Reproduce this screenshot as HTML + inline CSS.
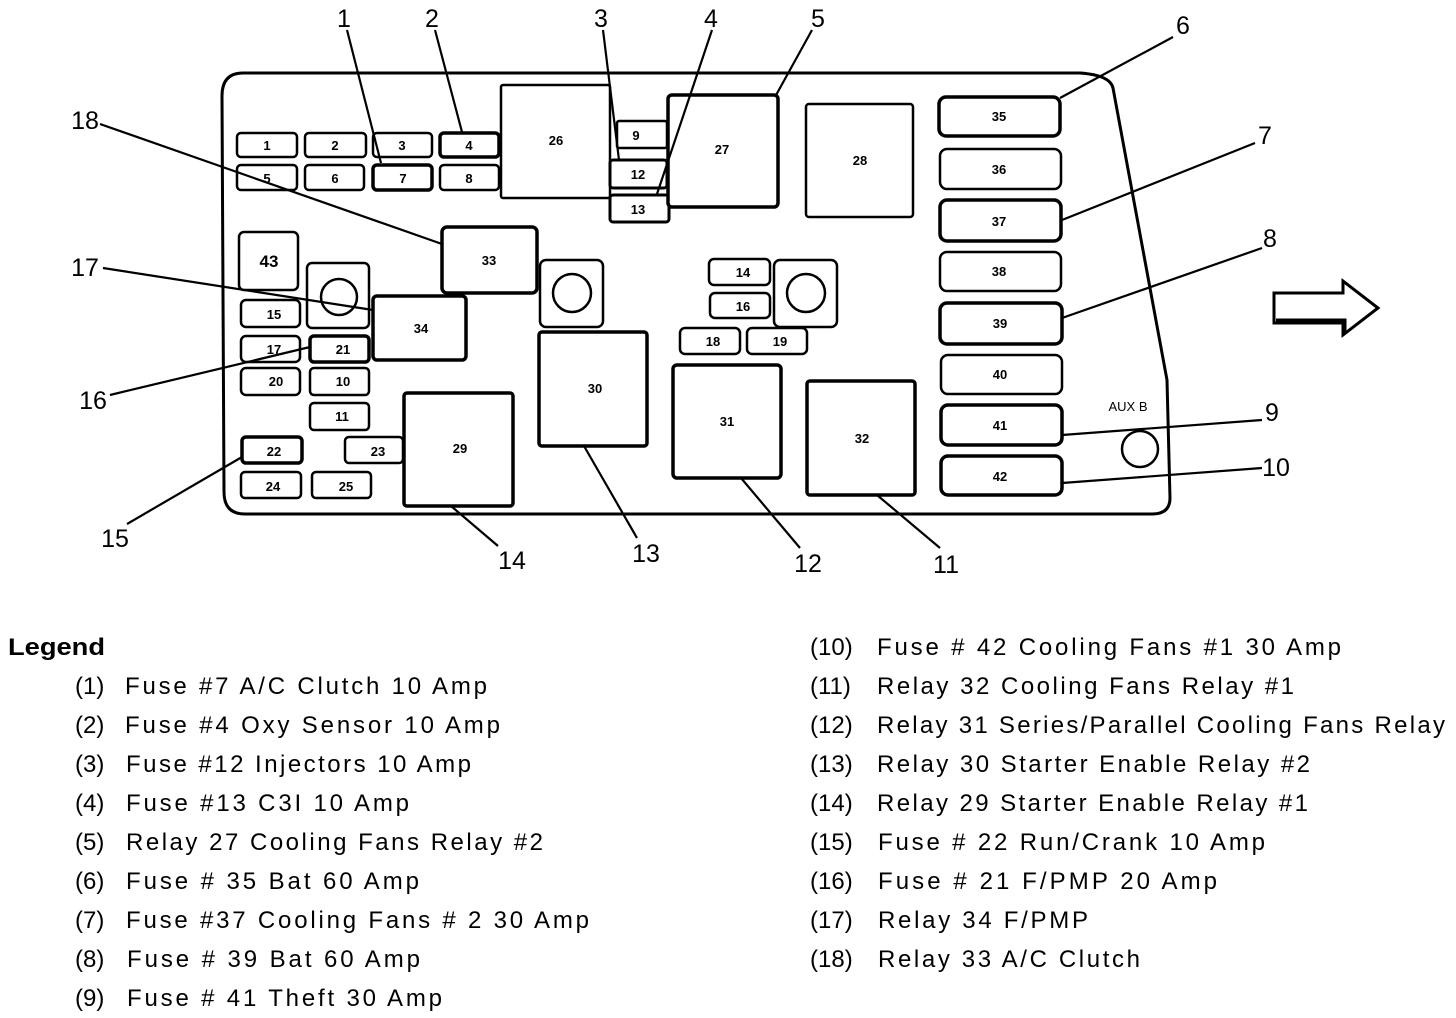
<!DOCTYPE html>
<html><head><meta charset="utf-8"><style>
html,body{margin:0;padding:0;background:#fff;}
svg{display:block;}
text{font-family:"Liberation Sans",sans-serif;fill:#000;}
.b{font-size:13px;font-weight:bold;text-anchor:middle;}
.c{font-size:25px;text-anchor:middle;}
.l{font-size:24px;}
</style></head><body>
<svg width="1456" height="1018" viewBox="0 0 1456 1018" xmlns="http://www.w3.org/2000/svg">
<g fill="none" stroke="#000" stroke-width="3">
<path d="M243,73 L1080,73 Q1110,75 1113,88 L1167,380 L1170,498 Q1170,514 1152,514 L245,514 Q224,514 224,492 L222,96 Q222,73 243,73 Z"/>
</g>
<g fill="#fff" stroke="#000" stroke-width="2.5">
<!-- small fuses -->
<rect x="237" y="133" width="60" height="24" rx="4"/>
<rect x="305" y="133" width="61" height="24" rx="4"/>
<rect x="373" y="133" width="59" height="24" rx="4"/>
<rect x="440" y="133" width="59" height="24" rx="4" stroke-width="3.5"/>
<rect x="237" y="165" width="60" height="25" rx="4"/>
<rect x="305" y="165" width="59" height="25" rx="4"/>
<rect x="373" y="165" width="59" height="25" rx="4" stroke-width="3.5"/>
<rect x="440" y="165" width="59" height="25" rx="4"/>
<rect x="501" y="85" width="109" height="113" rx="2"/>
<rect x="617" y="121" width="50" height="27" rx="2"/>
<rect x="610" y="160" width="57" height="28" rx="3" stroke-width="3"/>
<rect x="610" y="195" width="59" height="27" rx="3" stroke-width="3"/>
<rect x="668" y="95" width="110" height="112" rx="4" stroke-width="3.5"/>
<rect x="806" y="104" width="107" height="113" rx="3"/>
<rect x="939" y="97" width="121" height="39" rx="7" stroke-width="3.5"/>
<rect x="940" y="149" width="121" height="40" rx="7"/>
<rect x="940" y="200" width="121" height="41" rx="7" stroke-width="3.5"/>
<rect x="940" y="252" width="121" height="39" rx="7"/>
<rect x="940" y="303" width="122" height="41" rx="7" stroke-width="3.5"/>
<rect x="941" y="355" width="121" height="39" rx="7"/>
<rect x="941" y="405" width="121" height="40" rx="7" stroke-width="3.5"/>
<rect x="941" y="456" width="121" height="39" rx="7" stroke-width="3.5"/>
<rect x="239" y="232" width="59" height="58" rx="5"/>
<rect x="307" y="263" width="62" height="65" rx="5"/>
<rect x="241" y="300" width="59" height="27" rx="5"/>
<rect x="241" y="336" width="59" height="26" rx="5"/>
<rect x="241" y="368" width="59" height="27" rx="5"/>
<rect x="310" y="336" width="59" height="26" rx="4" stroke-width="3.5"/>
<rect x="310" y="368" width="59" height="27" rx="4"/>
<rect x="310" y="403" width="59" height="27" rx="4"/>
<rect x="242" y="437" width="60" height="26" rx="4" stroke-width="3.5"/>
<rect x="241" y="472" width="60" height="26" rx="4"/>
<rect x="312" y="472" width="59" height="26" rx="4"/>
<rect x="345" y="437" width="58" height="26" rx="4"/>
<rect x="373" y="296" width="93" height="64" rx="4" stroke-width="3.5"/>
<rect x="442" y="227" width="95" height="66" rx="5" stroke-width="3.5"/>
<rect x="404" y="393" width="109" height="113" rx="3" stroke-width="3.5"/>
<rect x="540" y="260" width="63" height="67" rx="6"/>
<rect x="539" y="332" width="108" height="114" rx="3" stroke-width="3.5"/>
<rect x="673" y="365" width="108" height="113" rx="4" stroke-width="3.5"/>
<rect x="807" y="381" width="108" height="114" rx="3" stroke-width="3.5"/>
<rect x="709" y="259" width="61" height="26" rx="5"/>
<rect x="710" y="293" width="60" height="25" rx="5"/>
<rect x="680" y="328" width="60" height="26" rx="5"/>
<rect x="747" y="328" width="60" height="26" rx="5"/>
<rect x="774" y="260" width="63" height="67" rx="6"/>
<circle cx="339" cy="297" r="18"/>
<circle cx="572" cy="293" r="19"/>
<circle cx="806" cy="293" r="19"/>
<circle cx="1140" cy="449" r="18"/>
</g>
<!-- callout lines -->
<g stroke="#000" stroke-width="2.2">
<line x1="347" y1="30" x2="381" y2="163"/>
<line x1="435" y1="30" x2="462" y2="132"/>
<line x1="603" y1="30" x2="619" y2="160"/>
<line x1="712" y1="30" x2="657" y2="194"/>
<line x1="812" y1="30" x2="775" y2="97"/>
<line x1="1173" y1="37" x2="1060" y2="98"/>
<line x1="1255" y1="143" x2="1062" y2="220"/>
<line x1="1262" y1="248" x2="1062" y2="318"/>
<line x1="1262" y1="420" x2="1062" y2="435"/>
<line x1="1262" y1="468" x2="1062" y2="483"/>
<line x1="940" y1="548" x2="877" y2="495"/>
<line x1="800" y1="548" x2="741" y2="478"/>
<line x1="637" y1="538" x2="584" y2="446"/>
<line x1="498" y1="546" x2="451" y2="506"/>
<line x1="127" y1="524" x2="242" y2="457"/>
<line x1="110" y1="395" x2="310" y2="347"/>
<line x1="103" y1="268" x2="373" y2="310"/>
<line x1="100" y1="124" x2="442" y2="244"/>
</g>
<!-- arrow -->
<polygon points="1274,293 1343,293 1343,281 1378,308 1343,335 1343,323 1274,323" fill="#fff" stroke="#000" stroke-width="3"/>
<polyline points="1276,320 1345,320 1345,332" fill="none" stroke="#000" stroke-width="3"/>
<!-- box labels -->
<g class="b">
<text x="267" y="150">1</text><text x="335" y="150">2</text><text x="402" y="150">3</text><text x="469" y="150">4</text>
<text x="267" y="183">5</text><text x="335" y="183">6</text><text x="403" y="183">7</text><text x="469" y="183">8</text>
<text x="556" y="145">26</text><text x="636" y="140">9</text><text x="638" y="179">12</text><text x="638" y="214">13</text>
<text x="722" y="154">27</text><text x="860" y="165">28</text>
<text x="999" y="121">35</text><text x="999" y="174">36</text><text x="999" y="226">37</text><text x="999" y="276">38</text>
<text x="1000" y="328">39</text><text x="1000" y="379">40</text><text x="1000" y="430">41</text><text x="1000" y="481">42</text>
<text x="269" y="267" style="font-size:17px">43</text>
<text x="274" y="319">15</text><text x="274" y="354">17</text><text x="276" y="386">20</text>
<text x="343" y="354">21</text><text x="343" y="386">10</text><text x="342" y="421">11</text>
<text x="274" y="456">22</text><text x="273" y="491">24</text><text x="346" y="491">25</text><text x="378" y="456">23</text>
<text x="421" y="333">34</text><text x="489" y="265">33</text><text x="460" y="453">29</text>
<text x="595" y="393">30</text><text x="727" y="426">31</text><text x="862" y="443">32</text>
<text x="743" y="277">14</text><text x="743" y="311">16</text><text x="713" y="346">18</text><text x="780" y="346">19</text>
<text x="1128" y="411" style="font-weight:normal;font-size:13px">AUX B</text>
</g>
<!-- callout numbers -->
<g class="c">
<text x="344" y="27">1</text><text x="432" y="27">2</text><text x="601" y="27">3</text><text x="711" y="27">4</text>
<text x="818" y="27">5</text><text x="1183" y="34">6</text><text x="1265" y="144">7</text><text x="1270" y="247">8</text>
<text x="1272" y="421">9</text><text x="1276" y="476">10</text><text x="946" y="573">11</text><text x="808" y="572">12</text>
<text x="646" y="562">13</text><text x="512" y="569">14</text><text x="115" y="547">15</text><text x="93" y="409">16</text>
<text x="85" y="276">17</text><text x="85" y="129">18</text>
</g>
<!-- legend -->
<g class="l">
<text x="8" y="655" font-weight="bold" textLength="97" lengthAdjust="spacingAndGlyphs">Legend</text>
<text x="75" y="694">(1)</text><text x="125" y="694" textLength="362">Fuse #7 A/C Clutch 10 Amp</text>
<text x="75" y="733">(2)</text><text x="125" y="733" textLength="375">Fuse #4 Oxy Sensor 10 Amp</text>
<text x="75" y="772">(3)</text><text x="126" y="772" textLength="345">Fuse #12 Injectors 10 Amp</text>
<text x="75" y="811">(4)</text><text x="126" y="811" textLength="283">Fuse #13 C3I 10 Amp</text>
<text x="75" y="850">(5)</text><text x="126" y="850" textLength="417">Relay 27 Cooling Fans Relay #2</text>
<text x="75" y="889">(6)</text><text x="126" y="889" textLength="293">Fuse # 35 Bat 60 Amp</text>
<text x="75" y="928">(7)</text><text x="126" y="928" textLength="463">Fuse #37 Cooling Fans # 2 30 Amp</text>
<text x="75" y="967">(8)</text><text x="127" y="967" textLength="293">Fuse # 39 Bat 60 Amp</text>
<text x="75" y="1006">(9)</text><text x="127" y="1006" textLength="315">Fuse # 41 Theft 30 Amp</text>
<text x="810" y="655">(10)</text><text x="877" y="655" textLength="464">Fuse # 42 Cooling Fans #1 30 Amp</text>
<text x="810" y="694">(11)</text><text x="877" y="694" textLength="417">Relay 32 Cooling Fans Relay #1</text>
<text x="810" y="733">(12)</text><text x="877" y="733" textLength="568">Relay 31 Series/Parallel Cooling Fans Relay</text>
<text x="810" y="772">(13)</text><text x="877" y="772" textLength="433">Relay 30 Starter Enable Relay #2</text>
<text x="810" y="811">(14)</text><text x="877" y="811" textLength="431">Relay 29 Starter Enable Relay #1</text>
<text x="810" y="850">(15)</text><text x="878" y="850" textLength="387">Fuse # 22 Run/Crank 10 Amp</text>
<text x="810" y="889">(16)</text><text x="878" y="889" textLength="339">Fuse # 21 F/PMP 20 Amp</text>
<text x="810" y="928">(17)</text><text x="878" y="928" textLength="210">Relay 34 F/PMP</text>
<text x="810" y="967">(18)</text><text x="878" y="967" textLength="262">Relay 33 A/C Clutch</text>
</g>
</svg>
</body></html>
